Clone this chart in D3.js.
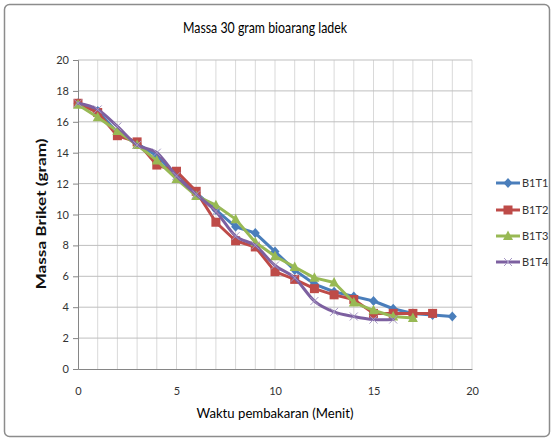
<!DOCTYPE html>
<html>
<head>
<meta charset="utf-8">
<script src="https://cdn.jsdelivr.net/npm/d3@7"></script>
<style>
  html, body { margin: 0; padding: 0; background: #fff; }
  svg { display: block; font-family: Lato, "Open Sans", sans-serif; }
</style>
</head>
<body>
<svg id="chart" width="554" height="441"></svg>
<script>
// Burning time (minutes) and briquette mass (gram) per sample
const minutes = d3.range(0, 20);
const b1t1 = [17.2, 16.7, 15.3, 14.6, 13.8, 12.5, 11.4, 10.3, 9.2, 8.8, 7.6, 6.4, 5.5, 5.0, 4.7, 4.4, 3.9, 3.6, 3.5, 3.4];
const b1t2 = [17.2, 16.6, 15.1, 14.7, 13.2, 12.8, 11.5, 9.5, 8.3, 7.9, 6.3, 5.8, 5.2, 4.8, 4.5, 3.6, 3.6, 3.6, 3.6];
const b1t3 = [17.1, 16.3, 15.4, 14.5, 13.5, 12.3, 11.2, 10.6, 9.7, 8.2, 7.3, 6.6, 5.9, 5.6, 4.3, 3.8, 3.4, 3.3];
const b1t4 = [17.2, 16.8, 15.7, 14.5, 14.0, 12.5, 11.3, 10.2, 8.6, 8.0, 6.7, 5.9, 4.4, 3.7, 3.4, 3.2, 3.2];
const seriesNames = ["B1T1", "B1T2", "B1T3", "B1T4"];
const seriesColors = ["#4A7EBB", "#BE4B48", "#98B954", "#7D60A0"];
const seriesMarkers = ["diamond", "square", "triangle", "cross"];
const seriesSmooth = [false, false, false, true];
const xTicks = [0, 5, 10, 15, 20];
const yTicks = d3.range(0, 21, 2);

const svg = d3.select("#chart");

// outer chart frame
svg.append("rect")
  .attr("x", 4.5).attr("y", 4.5).attr("width", 545).attr("height", 432)
  .attr("rx", 5).attr("fill", "#fff").attr("stroke", "#8c8c8c").attr("stroke-width", 1.5);

const x = d3.scaleLinear().domain([0, 20]).range([78, 472]);
const y = d3.scaleLinear().domain([0, 20]).range([369, 60]);

// gridlines
const grid = svg.append("g");
grid.selectAll("line.v").data(d3.range(1, 21)).join("line")
  .attr("x1", d => x(d)).attr("x2", d => x(d))
  .attr("y1", y(0)).attr("y2", y(20))
  .attr("stroke", "#d9d9d9").attr("stroke-width", 1);
grid.selectAll("line.h").data(yTicks.filter(d => d > 0)).join("line")
  .attr("x1", x(0)).attr("x2", x(20))
  .attr("y1", d => y(d)).attr("y2", d => y(d))
  .attr("stroke", "#bfbfbf").attr("stroke-width", 1);

// axes
const yAxis = svg.append("g").attr("transform", `translate(${x(0)},0)`)
  .call(d3.axisLeft(y).tickValues(yTicks).tickSize(5).tickPadding(4));
const xAxis = svg.append("g").attr("transform", `translate(0,${y(0)})`)
  .call(d3.axisBottom(x).tickValues(xTicks).tickSize(0).tickPadding(18));
[yAxis, xAxis].forEach(g => {
  g.select(".domain").attr("stroke", "#868686");
  g.selectAll(".tick line").attr("stroke", "#868686");
  g.selectAll(".tick text").attr("fill", "#333").style("font-size", "11px")
    .style("font-family", "Lato, 'Open Sans', sans-serif");
});

// marker shapes
function marker(g, type, color) {
  if (type === "diamond") {
    g.append("path").attr("d", "M0,-5L4.5,0L0,5L-4.5,0Z").attr("fill", color);
  } else if (type === "square") {
    g.append("rect").attr("x", -4.5).attr("y", -4.5).attr("width", 9).attr("height", 9).attr("fill", color);
  } else if (type === "triangle") {
    g.append("path").attr("d", "M0,-5.5L5,4L-5,4Z").attr("fill", color);
  } else {
    g.append("path").attr("d", "M-4,-4L4,4M-4,4L4,-4").attr("stroke", "#a597c4").attr("stroke-width", 1).attr("fill", "none");
  }
}

const allSeries = [b1t1, b1t2, b1t3, b1t4];
allSeries.forEach((vals, i) => {
  const pts = vals.map((v, k) => [minutes[k], v]);
  const line = d3.line().x(d => x(d[0])).y(d => y(d[1]))
    .curve(seriesSmooth[i] ? d3.curveCatmullRom.alpha(0) : d3.curveLinear);
  svg.append("path").datum(pts).attr("d", line)
    .attr("fill", "none").attr("stroke", seriesColors[i]).attr("stroke-width", 3)
    .attr("stroke-linejoin", "round").attr("stroke-linecap", "round");
  const mg = svg.append("g");
  pts.forEach(p => {
    const m = mg.append("g").attr("transform", `translate(${x(p[0])},${y(p[1])})`);
    marker(m, seriesMarkers[i], seriesColors[i]);
  });
});

// legend
const legY = [183, 210, 236, 262];
seriesNames.forEach((name, i) => {
  const g = svg.append("g").attr("transform", `translate(0,${legY[i]})`);
  g.append("line").attr("x1", 496).attr("x2", 520).attr("y1", 0).attr("y2", 0)
    .attr("stroke", seriesColors[i]).attr("stroke-width", 3);
  const m = g.append("g").attr("transform", "translate(508,0)");
  marker(m, seriesMarkers[i], seriesColors[i]);
  g.append("text").attr("x", 522).attr("y", 4).text(name)
    .style("font-size", "11px").attr("fill", "#333");
});

// titles
svg.append("text").attr("x", 265).attr("y", 33).attr("text-anchor", "middle")
  .style("font-size", "15px").attr("fill", "#000")
  .attr("textLength", 164).attr("lengthAdjust", "spacingAndGlyphs")
  .text("Massa 30 gram bioarang ladek");
svg.append("text").attr("x", 275).attr("y", 418).attr("text-anchor", "middle")
  .style("font-size", "14px").attr("fill", "#000")
  .attr("textLength", 157).attr("lengthAdjust", "spacingAndGlyphs")
  .text("Waktu pembakaran (Menit)");
svg.append("text").attr("transform", "translate(46,214) rotate(-90)").attr("text-anchor", "middle")
  .style("font-size", "14px").style("font-weight", "bold").attr("fill", "#111")
  .attr("textLength", 151).attr("lengthAdjust", "spacingAndGlyphs")
  .text("Massa Briket (gram)");
</script>
</body>
</html>
